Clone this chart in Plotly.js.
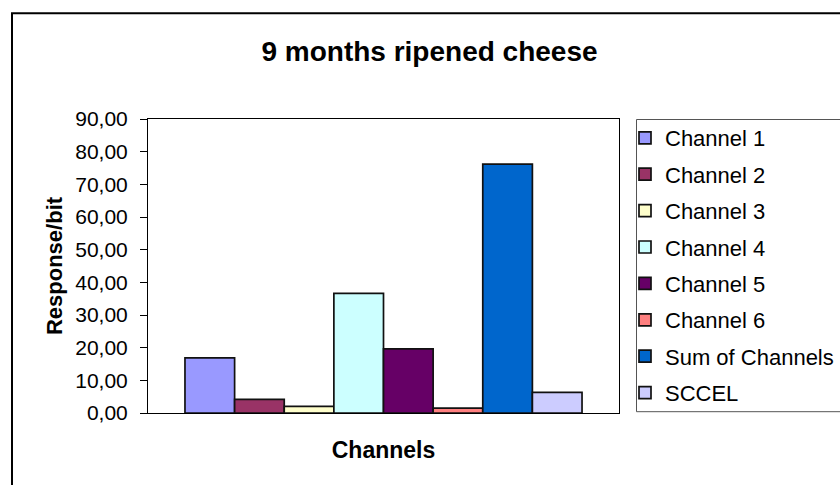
<!DOCTYPE html>
<html>
<head>
<meta charset="utf-8">
<script src="https://cdn.plot.ly/plotly-3.0.1.min.js"></script>
<style>
  html, body { margin: 0; padding: 0; background: #ffffff; overflow: hidden; }
  #chart { width: 840px; height: 485px; }
</style>
</head>
<body>
<div id="chart"></div>
<script>
// ---- data ----
const chartTitle = "9 months ripened cheese";
const xTitle = "Channels";
const yTitle = "Response/bit";
const category = ["9 months"];
const seriesNames = ["Channel 1", "Channel 2", "Channel 3", "Channel 4", "Channel 5", "Channel 6", "Sum of Channels", "SCCEL"];
const seriesValues = [16.9, 4.2, 2.0, 36.6, 19.6, 1.5, 76.2, 6.3];
const seriesColors = ["#9999FF", "#993366", "#FFFFCC", "#CCFFFF", "#660066", "#FF8080", "#0066CC", "#CCCCFF"];
const yTickValues = [0, 10, 20, 30, 40, 50, 60, 70, 80, 90];

// ---- layout geometry ----
const W = 840, H = 485;
const M = { l: 148, r: 221, t: 119, b: 72, autoexpand: false };
const pw = W - M.l - M.r, ph = H - M.t - M.b;
const px2x = (px) => (px - M.l) / pw;
const py2y = (py) => (H - M.b - py) / ph;

const FONT = "Liberation Sans, Arial, sans-serif";

const traces = seriesNames.map((name, i) => ({
  type: "bar",
  name: name,
  x: category,
  y: [seriesValues[i]],
  legendgroup: "g" + i,
  marker: { color: seriesColors[i], line: { color: "#111111", width: 1.7 } },
  hoverinfo: "name+y"
}));

const layout = {
  width: W, height: H,
  margin: M,
  paper_bgcolor: "rgba(0,0,0,0)",
  plot_bgcolor: "#ffffff",
  separators: ",.",
  font: { family: FONT, color: "#000000", size: 20 },
  title: {
    text: "<b>" + chartTitle + "</b>",
    font: { family: FONT, size: 28, color: "#000000" },
    x: 429.5 / W, xref: "container", xanchor: "center",
    y: 1 - 51 / H, yref: "container", yanchor: "middle"
  },
  barmode: "group",
  bargap: 0.157,
  bargroupgap: 0,
  xaxis: {
    type: "category",
    showticklabels: false,
    ticks: "",
    showgrid: false,
    zeroline: false,
    showline: true, mirror: true, linecolor: "#000000", linewidth: 1,
    title: { text: "<b>" + xTitle + "</b>", font: { family: FONT, size: 23, color: "#000000" }, standoff: 28 },
    automargin: false,
    fixedrange: true
  },
  yaxis: {
    range: [0, 90],
    tickvals: yTickValues,
    tickformat: ".2f",
    ticks: "outside", ticklen: 7, tickwidth: 1, tickcolor: "#000000",
    ticklabelstandoff: 8,
    tickfont: { family: FONT, size: 21, color: "#000000" },
    showgrid: false,
    zeroline: false,
    showline: true, mirror: true, linecolor: "#000000", linewidth: 1,
    title: { text: "<b>" + yTitle + "</b>", font: { family: FONT, size: 22, color: "#000000" }, standoff: 6 },
    automargin: false,
    fixedrange: true
  },
  showlegend: true,
  legend: {
    x: px2x(625), xanchor: "left",
    y: py2y(117), yanchor: "top",
    bgcolor: "rgba(0,0,0,0)",
    borderwidth: 0,
    maxheight: 420,
    font: { family: FONT, size: 22, color: "#000000" },
    tracegroupgap: 4.8,
    traceorder: "grouped"
  },
  shapes: [
    // outer chart-area border (left and top edges visible)
    { type: "line", xref: "paper", yref: "paper", layer: "below",
      x0: px2x(12), x1: px2x(12), y0: py2y(H + 20), y1: py2y(13.2),
      line: { color: "#000000", width: 2 } },
    { type: "line", xref: "paper", yref: "paper", layer: "below",
      x0: px2x(11), x1: px2x(W + 20), y0: py2y(13.2), y1: py2y(13.2),
      line: { color: "#000000", width: 2 } },
    // legend box (right edge off-canvas)
    { type: "rect", xref: "paper", yref: "paper", layer: "below",
      x0: px2x(636.5), x1: px2x(W + 30), y0: py2y(411.7), y1: py2y(119.5),
      line: { color: "#555555", width: 1 }, fillcolor: "rgba(0,0,0,0)" }
  ]
};

Plotly.newPlot("chart", traces, layout, { displayModeBar: false, staticPlot: false });
</script>
</body>
</html>
